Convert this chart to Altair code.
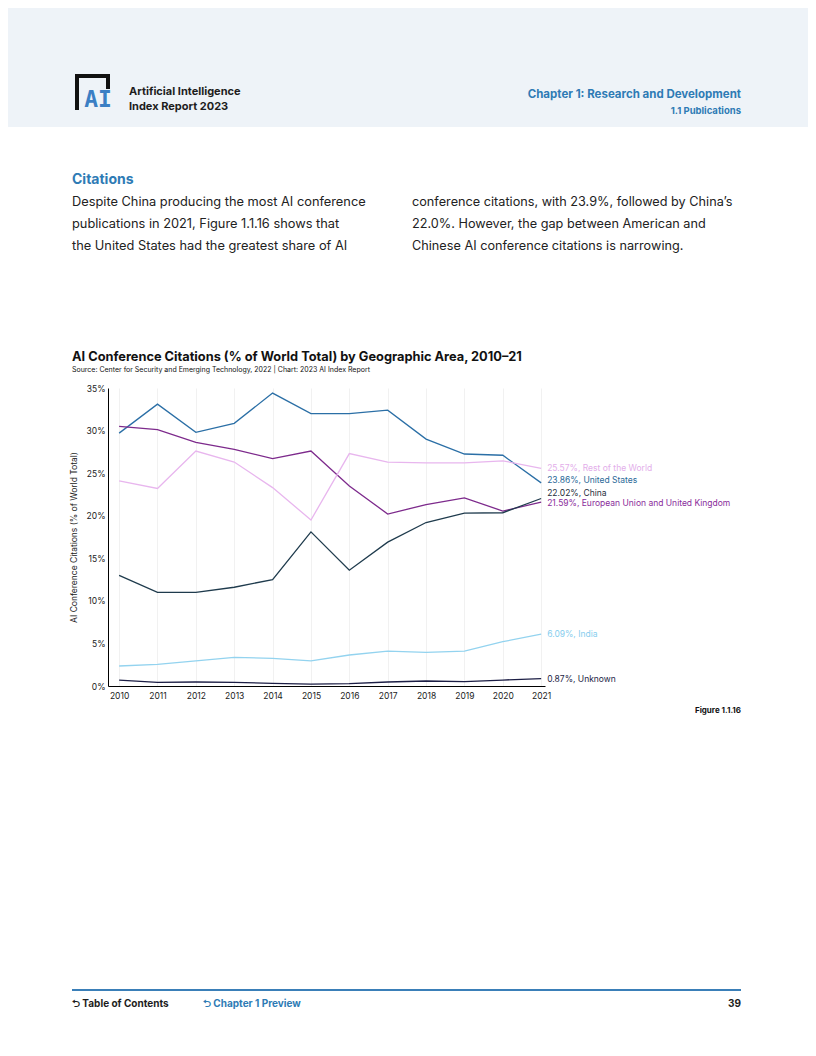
import altair as alt
import pandas as pd

years = list(range(2010, 2022))
series_names = [
    "United States",
    "European Union and United Kingdom",
    "Rest of the World",
    "China",
    "India",
    "Unknown",
]
us = [29.7, 33.1, 29.8, 30.85, 34.4, 32.0, 32.0, 32.4, 29.0, 27.25, 27.1, 23.86]
eu = [30.5, 30.1, 28.6, 27.8, 26.7, 27.6, 23.5, 20.2, 21.3, 22.1, 20.55, 21.59]
row = [24.1, 23.2, 27.6, 26.3, 23.3, 19.5, 27.3, 26.3, 26.2, 26.2, 26.45, 25.57]
china = [13.0, 11.0, 11.0, 11.6, 12.5, 18.1, 13.6, 16.9, 19.2, 20.3, 20.35, 22.02]
india = [2.35, 2.55, 2.94, 3.37, 3.25, 2.94, 3.64, 4.1, 3.95, 4.1, 5.2, 6.09]
unknown = [0.7, 0.43, 0.47, 0.43, 0.31, 0.23, 0.27, 0.47, 0.59, 0.51, 0.7, 0.87]
all_values = [us, eu, row, china, india, unknown]

line_colors = ["#2b6fa6", "#7d2a8c", "#e8b6ee", "#1f3b4d", "#93d3ef", "#1c1e45"]
label_colors = ["#2b6a99", "#8a2c9b", "#e3aeea", "#1f2d3a", "#86cdee", "#1c1e45"]
label_dy = [-3, 1, 0, -6, 0, 0]

rows = []
for name, vals in zip(series_names, all_values):
    for y, v in zip(years, vals):
        rows.append({"year": y, "value": v, "series": name})
df = pd.DataFrame(rows)

FONT = "Inter"
OX, OY = 108, 388  # plot origin on page

x_enc = alt.X(
    "year:Q",
    scale=alt.Scale(domain=[2009.71, 2021.1], nice=False, zero=False),
    axis=alt.Axis(
        values=years, format="d", title=None, grid=True, gridColor="#eeeeee",
        gridWidth=0.8, ticks=False, labelPadding=5, labelFontSize=8.5,
        labelColor="#222222", domainColor="#000000", domainWidth=1,
        labelFont=FONT, labelOverlap=False,
    ),
)
y_enc = alt.Y(
    "value:Q",
    scale=alt.Scale(domain=[0, 35], nice=False),
    axis=alt.Axis(
        values=[0, 5, 10, 15, 20, 25, 30, 35],
        labelExpr="datum.value + '%'",
        title="AI Conference Citations (% of World Total)",
        titleFontSize=8.5, titleFontWeight="normal", titleColor="#222222",
        titleFont=FONT, titlePadding=8, grid=False, ticks=False,
        labelPadding=3, labelFontSize=8.5, labelColor="#222222",
        domainColor="#000000", domainWidth=1, labelFont=FONT,
        labelOverlap=False,
    ),
)

lines = alt.Chart(df).mark_line(strokeWidth=1.3).encode(
    x=x_enc,
    y=y_enc,
    color=alt.Color("series:N", scale=alt.Scale(domain=series_names, range=line_colors), legend=None),
    detail="series:N",
)

label_layers = []
for name, vals, col, dy in zip(series_names, all_values, label_colors, label_dy):
    ld = pd.DataFrame([{"year": 2021, "value": vals[-1], "label": f"{vals[-1]:.2f}%, {name}"}])
    label_layers.append(
        alt.Chart(ld).mark_text(
            align="left", baseline="middle", dx=6, dy=dy, fontSize=8.5,
            font=FONT, color=col,
        ).encode(x=x_enc, y=y_enc, text="label:N")
    )

one = alt.Data(values=[{}])


def txt(s, x, y, size, color, weight="normal", align="left", font=FONT):
    return alt.Chart(one).mark_text(
        text=s, align=align, baseline="middle", fontSize=size, color=color,
        fontWeight=weight, font=font,
    ).encode(x=alt.value(x - OX), y=alt.value(y - OY))


def rect(x1, y1, x2, y2, color):
    return alt.Chart(one).mark_rect(color=color).encode(
        x=alt.value(x1 - OX), x2=alt.value(x2 - OX),
        y=alt.value(y1 - OY), y2=alt.value(y2 - OY),
    )


BLUE = "#2e7bb5"
DARK = "#1d1d1d"

page = [
    rect(0, 0, 816, 127, "#eef3f8"),
    # logo
    rect(75, 74, 79, 110, "#111111"),
    rect(75, 74, 110, 78, "#111111"),
    rect(106, 74, 110, 89, "#111111"),
    txt("AI", 98, 100, 23, "#3b7fc4", "bold", "center", "DejaVu Sans Mono"),
    txt("Artificial Intelligence", 129, 92, 11, DARK, "bold"),
    txt("Index Report 2023", 129, 107, 11, DARK, "bold"),
    txt("Chapter 1: Research and Development", 741, 95, 11.5, BLUE, "bold", "right"),
    txt("1.1 Publications", 741, 111, 9.5, BLUE, "bold", "right"),
    txt("Citations", 72, 180, 14, BLUE, "bold"),
    txt("Despite China producing the most AI conference", 72, 202, 12.8, "#222222"),
    txt("publications in 2021, Figure 1.1.16 shows that", 72, 224, 12.8, "#222222"),
    txt("the United States had the greatest share of AI", 72, 246, 12.8, "#222222"),
    txt("conference citations, with 23.9%, followed by China\u2019s", 412, 202, 12.7, "#222222"),
    txt("22.0%. However, the gap between American and", 412, 224, 12.7, "#222222"),
    txt("Chinese AI conference citations is narrowing.", 412, 246, 12.7, "#222222"),
    txt("AI Conference Citations (% of World Total) by Geographic Area, 2010\u201321", 72, 357, 12.8, "#111111", "bold"),
    txt("Source: Center for Security and Emerging Technology, 2022 | Chart: 2023 AI Index Report", 72, 370, 7, "#111111"),
    txt("Figure 1.1.16", 741, 711, 8, "#111111", "bold", "right"),
    rect(72, 989, 741, 991, "#3a7fb8"),
    txt("\u2b8c Table of Contents", 72, 1004, 10, DARK, "bold"),
    txt("\u2b8c Chapter 1 Preview", 203, 1004, 10, BLUE, "bold"),
    txt("39", 741, 1004, 10, DARK, "bold", "right"),
]

chart = alt.layer(*page, lines, *label_layers).properties(
    width=437,
    height=298,
    autosize=alt.AutoSizeParams(type="none"),
    padding={"left": 100, "top": 380, "right": 263, "bottom": 350},
    background="white",
).configure_view(strokeWidth=0)

chart.save("out.html", embed_options={"renderer": "svg", "actions": False})
